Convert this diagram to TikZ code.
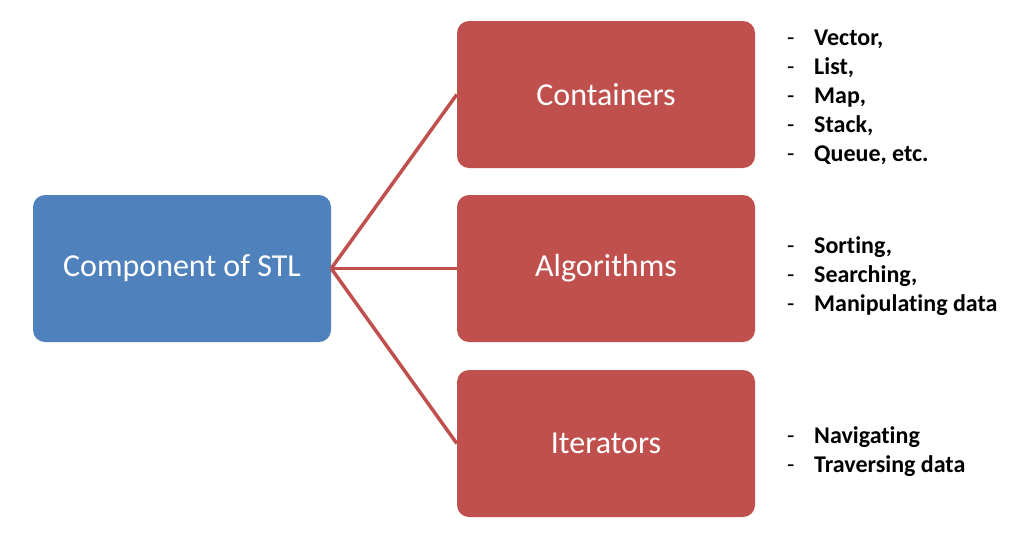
\documentclass[tikz,border=0pt]{standalone}
\usepackage{fontspec}
\usepackage{array}
\setmainfont[Ligatures=NoCommon]{Carlito}
\usetikzlibrary{positioning}
\definecolor{stlblue}{HTML}{4F81BD}
\definecolor{stlred}{HTML}{C0504D}
\newcommand{\itemlist}[1]{\fontsize{24}{29}\selectfont\begin{tabular}[t]{@{}p{27pt}@{}>{\bfseries}l@{}}#1\end{tabular}}

\begin{document}
\begin{tikzpicture}[x=1pt, y=-1pt,
    box/.style={draw=none, rounded corners=12pt, minimum width=298pt, minimum height=147pt, align=center, text=white, font=\fontsize{32}{38}\selectfont},
    link/.style={draw=stlred, line width=3.5pt},
    listnode/.style={anchor=base west, inner sep=0pt}]
    \useasboundingbox (0,0) rectangle (1024,536);

    % Komponen utama
    \node[box, fill=stlblue] (comp) at (182,268.5) {Component of STL};

    % Cabang
    \node[box, fill=stlred] (cont) at (606,94.5) {Containers};
    \node[box, fill=stlred] (algo) at (606,268.5) {Algorithms};
    \node[box, fill=stlred] (iter) at (606,443.5) {Iterators};

    \draw[link] (comp.east) -- (cont.west);
    \draw[link] (comp.east) -- (algo.west);
    \draw[link] (comp.east) -- (iter.west);

    % Daftar contoh
    \node[listnode] (contlist) at (787,45) {\itemlist{-&Vector,\\-&List,\\-&Map,\\-&Stack,\\-&Queue, etc.}};
    \node[listnode] (algolist) at (787,253) {\itemlist{-&Sorting,\\-&Searching,\\-&Manipulating data}};
    \node[listnode] (iterlist) at (787,443) {\itemlist{-&Navigating\\-&Traversing data}};
\end{tikzpicture}
\end{document}
